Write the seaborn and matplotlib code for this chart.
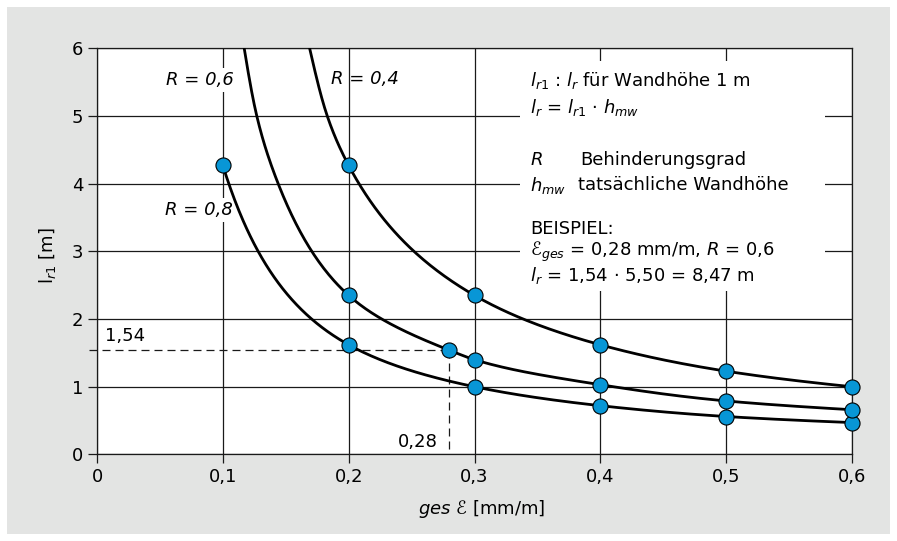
import numpy as np
import matplotlib
matplotlib.use("Agg")
import matplotlib.pyplot as plt
import seaborn as sns
from matplotlib.patches import Rectangle

# ---------------- data ----------------
eps_r08 = [0.1, 0.2, 0.3, 0.4, 0.5, 0.6]
l_r08 = [4.27, 1.62, 1.00, 0.72, 0.56, 0.47]

eps_r06 = [0.2, 0.28, 0.3, 0.4, 0.5, 0.6]
l_r06 = [2.35, 1.54, 1.40, 1.03, 0.79, 0.66]

eps_r04 = [0.2, 0.3, 0.4, 0.5, 0.6]
l_r04 = [4.27, 2.35, 1.62, 1.23, 1.00]

# curve continuation above the first marker
tail_eps_r06 = [0.117, 0.127, 0.144]
tail_l_r06 = [6.0, 5.0, 4.0]
tail_eps_r04 = [0.169, 0.183]
tail_l_r04 = [6.0, 5.0]

x_ticks = [0, 0.1, 0.2, 0.3, 0.4, 0.5, 0.6]
x_ticklabels = ["0", "0,1", "0,2", "0,3", "0,4", "0,5", "0,6"]
y_ticks = [0, 1, 2, 3, 4, 5, 6]
y_ticklabels = ["0", "1", "2", "3", "4", "5", "6"]

example_eps = 0.28
example_l = 1.54

# ---------------- style ----------------
sns.set_style("white")
plt.rcParams["font.family"] = ["DejaVu Sans"]
plt.rcParams["mathtext.fontset"] = "dejavusans"
plt.rcParams["text.color"] = "black"
plt.rcParams["axes.labelcolor"] = "black"
plt.rcParams["xtick.color"] = "black"
plt.rcParams["ytick.color"] = "black"
FS = 13

BLUE = "#0896d6"
GRID = "#1a1a1a"


def pchip(x, y, xn):
    x = np.asarray(x, float)
    y = np.asarray(y, float)
    h = np.diff(x)
    d = np.diff(y) / h
    n = len(x)
    m = np.zeros(n)
    for k in range(1, n - 1):
        if d[k - 1] * d[k] <= 0:
            m[k] = 0
        else:
            w1 = 2 * h[k] + h[k - 1]
            w2 = h[k] + 2 * h[k - 1]
            m[k] = (w1 + w2) / (w1 / d[k - 1] + w2 / d[k])
    m[0] = d[0]
    m[-1] = d[-1]
    out = np.empty_like(xn)
    idx = np.clip(np.searchsorted(x, xn) - 1, 0, n - 2)
    for j, (xv, i) in enumerate(zip(xn, idx)):
        t = (xv - x[i]) / h[i]
        h00 = 2 * t**3 - 3 * t**2 + 1
        h10 = t**3 - 2 * t**2 + t
        h01 = -2 * t**3 + 3 * t**2
        h11 = t**3 - t**2
        out[j] = h00 * y[i] + h10 * h[i] * m[i] + h01 * y[i + 1] + h11 * h[i] * m[i + 1]
    return out


def smooth(ex, ly):
    lx = np.log(ex)
    lyv = np.log(ly)
    xn = np.linspace(lx[0], lx[-1], 300)
    return np.exp(xn), np.exp(pchip(lx, lyv, xn))


fig = plt.figure(figsize=(8.97, 5.41), dpi=100)
fig.patch.set_facecolor("white")
fig.patches.append(Rectangle((7 / 897, 7 / 541), 883 / 897, 527 / 541,
                             transform=fig.transFigure, facecolor="#e3e4e3",
                             edgecolor="none", zorder=-10))

ax = fig.add_axes([97 / 897, (541 - 454.4) / 541, (852 - 97) / 897, 406 / 541])
ax.set_facecolor("white")
ax.set_xlim(0, 0.6)
ax.set_ylim(0, 6)
ax.set_axisbelow(True)

# grid
ax.set_xticks(x_ticks)
ax.set_xticklabels(x_ticklabels, fontsize=FS)
ax.set_yticks(y_ticks)
ax.set_yticklabels(y_ticklabels, fontsize=FS)
ax.grid(True, color=GRID, linewidth=0.9)
for s in ax.spines.values():
    s.set_visible(True)
    s.set_color(GRID)
    s.set_linewidth(0.9)
ax.tick_params(axis="both", which="both", direction="out", length=6.5, width=0.9,
               color=GRID, pad=3.5, labelcolor="black", bottom=True, left=True)

# white box behind the explanatory text
ax.add_patch(Rectangle((0.3362, 2.41), 0.5787 - 0.3362, 5.81 - 2.41,
                       facecolor="white", edgecolor="none", zorder=1))

# curves
curves = [
    (eps_r08, l_r08, [], []),
    (eps_r06, l_r06, tail_eps_r06, tail_l_r06),
    (eps_r04, l_r04, tail_eps_r04, tail_l_r04),
]
for ex, ly, te, tl in curves:
    xs, ys = smooth(list(te) + list(ex), list(tl) + list(ly))
    sns.lineplot(x=xs, y=ys, ax=ax, color="black", linewidth=2.0, sort=False,
                 estimator=None, zorder=3)

# markers
all_x = eps_r08 + eps_r06 + eps_r04
all_y = l_r08 + l_r06 + l_r04
sns.scatterplot(x=all_x, y=all_y, ax=ax, s=118, color=BLUE, edgecolor="black",
                linewidth=0.8, zorder=4, clip_on=False)

# example dashed lines
dash_kw = dict(color=GRID, linewidth=0.9, dashes=(6.4, 4), zorder=2, clip_on=False)
ax.plot([-0.006, example_eps], [example_l, example_l], **dash_kw)
ax.plot([example_eps, example_eps], [example_l, 0], **dash_kw)
ax.text(0.0064, 1.75, "1,54", fontsize=FS, ha="left", va="center", zorder=5)
ax.text(0.2711, 0.19, "0,28", fontsize=FS, ha="right", va="center", zorder=5)

# R labels
wb = dict(facecolor="white", edgecolor="none", pad=2.0)
ax.text(0.0815, 5.53, "R = 0,6", fontsize=FS, style="italic", ha="center",
        va="center", bbox=wb, zorder=2)
ax.text(0.213, 5.545, "R = 0,4", fontsize=FS, style="italic", ha="center",
        va="center", zorder=2)
ax.text(0.081, 3.61, "R = 0,8", fontsize=FS, style="italic", ha="center",
        va="center", bbox=wb, zorder=2)

# explanatory text block
x1 = 0.3442
x2 = 0.382
tkw = dict(fontsize=FS, ha="left", va="center", zorder=5, color="black")
ax.text(x1, 5.53, r"$l_{r1}$ : $l_r$ für Wandhöhe 1 m", **tkw)
ax.text(x1, 5.12, r"$l_r$ = $l_{r1}$ · $h_{mw}$", **tkw)
ax.text(x1, 4.35, r"$R$", **tkw)
ax.text(x2 + 0.002, 4.35, "Behinderungsgrad", **tkw)
ax.text(x1, 3.98, r"$h_{mw}$", **tkw)
ax.text(x2, 3.98, "tatsächliche Wandhöhe", **tkw)
ax.text(x1, 3.33, "BEISPIEL:", **tkw)
ax.text(x1, 3.00, "ℰ${}_{ges}$ = 0,28 mm/m, $R$ = 0,6", **tkw)
ax.text(x1, 2.65, r"$l_r$ = 1,54 · 5,50 = 8,47 m", **tkw)

# axis labels
ax.set_xlabel(r"$\mathit{ges}$ ℰ [mm/m]", fontsize=FS)
ax.set_ylabel(r"l${}_{r1}$ [m]", fontsize=FS)
ax.xaxis.set_label_coords((482 - 97) / 755, -(509 - 454.4) / 406)
ax.yaxis.set_label_coords(-(97 - 47) / 755, (454.4 - 256) / 406)
ax.xaxis.label.set_verticalalignment("center")
ax.yaxis.label.set_verticalalignment("center")

fig.savefig("out.png", dpi=100, facecolor="white")
